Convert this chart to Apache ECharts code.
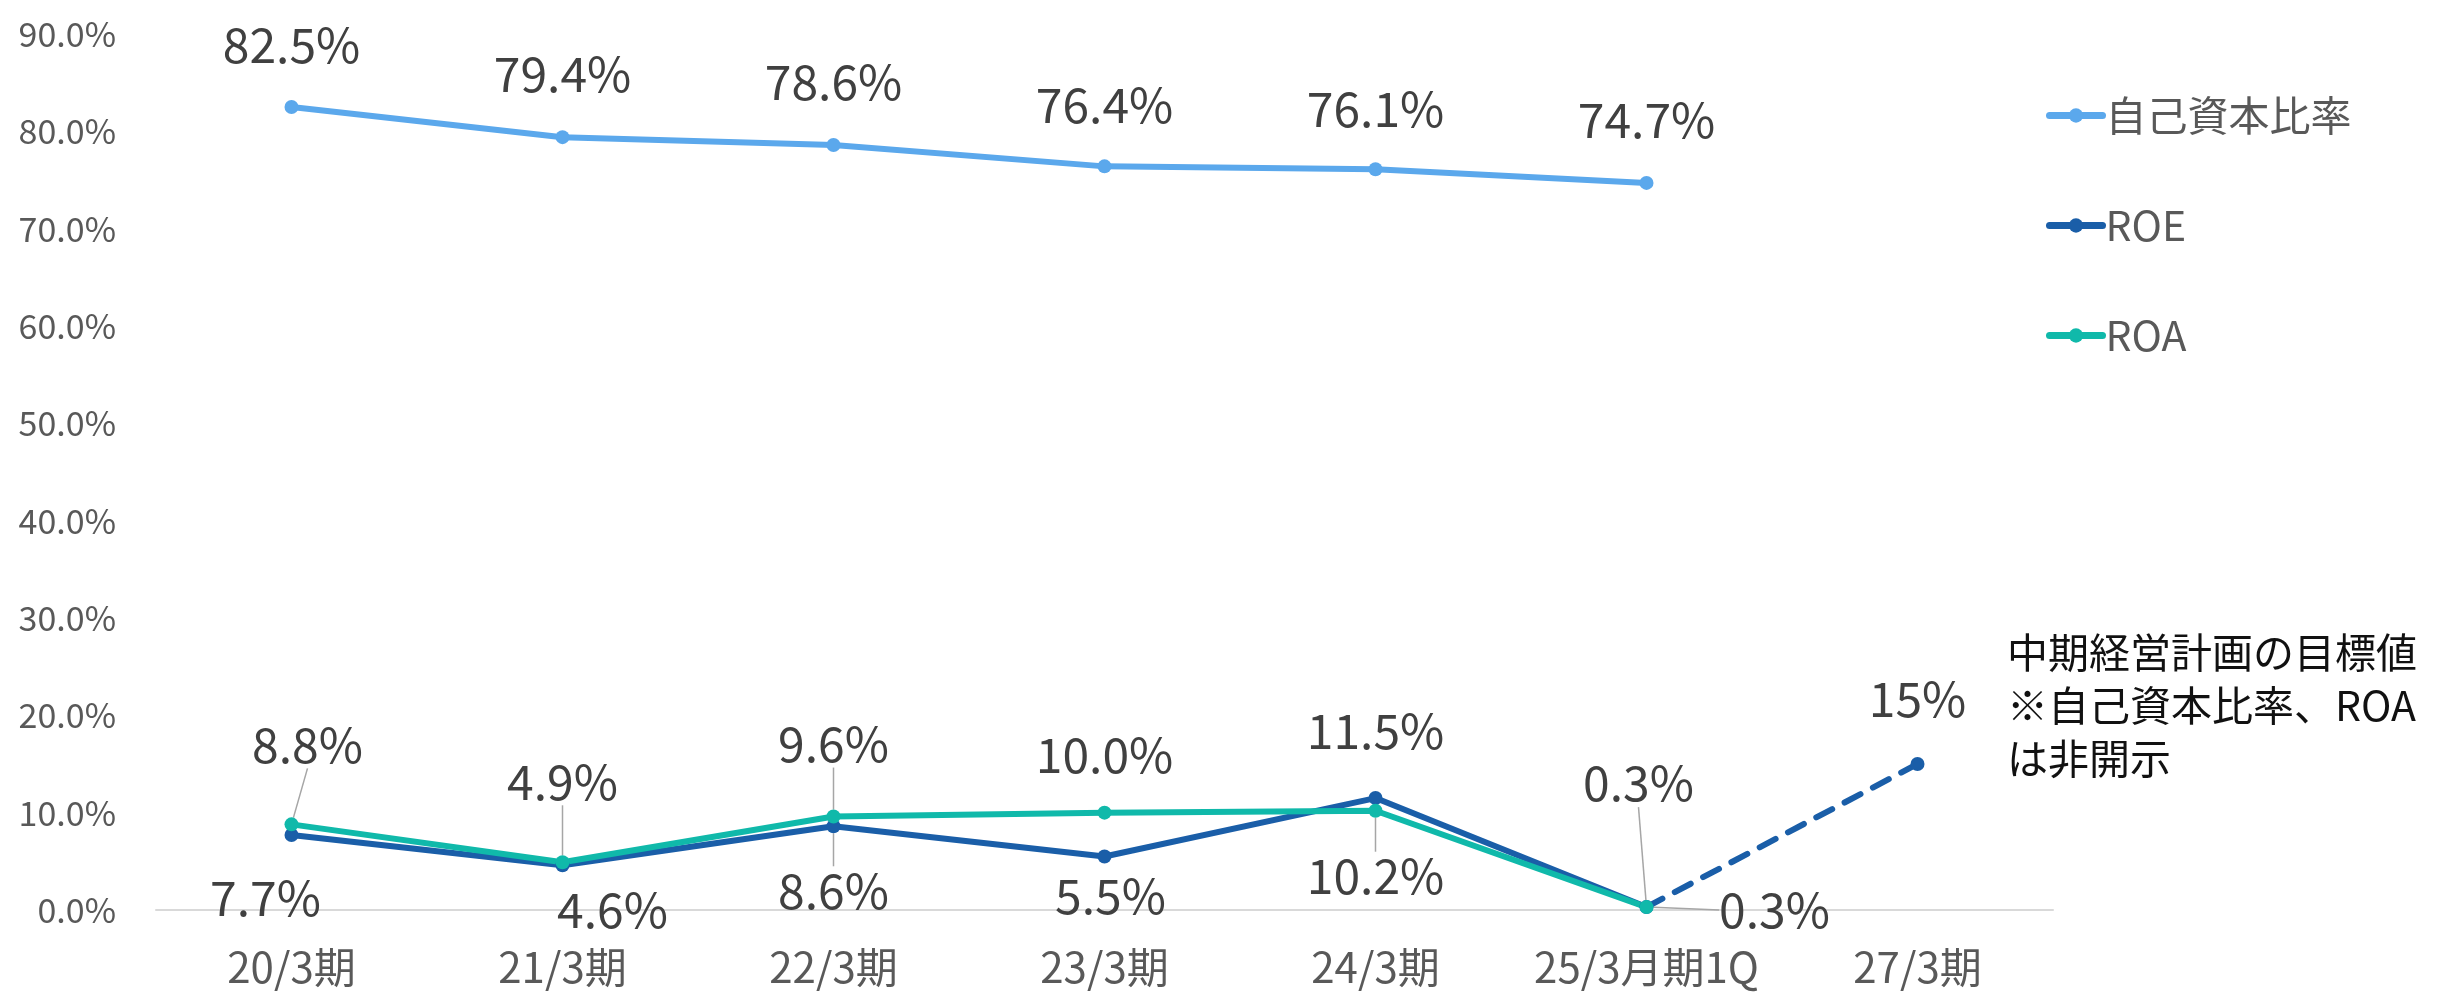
<!DOCTYPE html>
<html>
<head>
<meta charset="utf-8">
<script src="https://cdn.jsdelivr.net/npm/echarts@6/dist/echarts.min.js"></script>
<style>
  html, body { margin: 0; padding: 0; background: #fff; }
  #chart { width: 2440px; height: 1000px; }
</style>
</head>
<body>
<div id="chart"></div>
<script>
// categories and values (percent)
const categories = ['20/3期', '21/3期', '22/3期', '23/3期', '24/3期', '25/3月期1Q', '27/3期']
const equityRatio = [82.5, 79.4, 78.6, 76.4, 76.1, 74.7, null]
const roe = [7.7, 4.6, 8.6, 5.5, 11.5, 0.3, null]
const roa = [8.8, 4.9, 9.6, 10.0, 10.2, 0.3, null]
const roeTarget = [null, null, null, null, null, 0.3, 15]
const yTicks = { min: 0, max: 90, interval: 10 }

// label placement (pixel offsets from the point) and leader lines
const equityOffset = [[0, -62], [0, -63], [0, -63], [0, -62], [0, -61], [0, -63], [0, 0]]
const roeOffset = [[-26, 63], [50, 45], [0, 64], [6, 39], [0, -67], [128, 3], [0, 0]]
const roaOffset = [[16, -80], [0, -81], [0, -73], [0, -58], [0, 65], [-8, -124], [0, 0]]
const roeLeader = [false, false, true, false, false, true, false]
const roaLeader = [true, true, true, false, true, true, false]

const font = '"Noto Sans CJK JP", "Noto Sans", sans-serif'
const colors = {
    equity: '#5ba8ec',
    roe: '#1a5ea8',
    roa: '#10b9aa'
}

const dataLabel = {
    show: true,
    position: 'inside',
    fontSize: 48,
    fontFamily: font,
    color: '#404040',
    formatter: (p) => p.value.toFixed(1) + '%'
}
const leaderStyle = { show: true, lineStyle: { color: '#a6a6a6', width: 1.5 } }

const withLeaders = (values, leaders) => values.map((v, i) => ({
    value: v,
    labelLine: { show: leaders[i] }
}))

const mkLayout = (offsets) => (params) => {
    const o = offsets[params.dataIndex] || [0, 0]
    return { dx: o[0], dy: o[1] }
}

const chart = echarts.init(document.getElementById('chart'))
chart.setOption({
    animation: false,
    textStyle: { fontFamily: font },
    grid: {
        left: 156,
        right: 387,
        top: 34,
        bottom: 90,
        containLabel: false,
        outerBoundsMode: 'none'
    },
    legend: {
        orient: 'vertical',
        left: 2041,
        top: 90,
        itemGap: 69,
        itemWidth: 53,
        itemHeight: 18,
        lineStyle: { width: 7, cap: 'round' },
        textStyle: { fontSize: 41, color: '#595959', fontFamily: font, padding: [0, 0, 0, -2] },
        data: ['自己資本比率', 'ROE', 'ROA']
    },
    xAxis: {
        type: 'category',
        data: categories,
        boundaryGap: true,
        axisLine: { show: true, lineStyle: { color: '#d9d9d9', width: 2 } },
        axisTick: { show: false },
        axisLabel: { interval: 0, fontSize: 42, color: '#595959', margin: 36, fontFamily: font }
    },
    yAxis: {
        type: 'value',
        min: yTicks.min,
        max: yTicks.max,
        interval: yTicks.interval,
        splitLine: { show: false },
        axisLine: { show: false },
        axisTick: { show: false },
        axisLabel: {
            fontSize: 34,
            color: '#595959',
            margin: 40,
            fontFamily: font,
            formatter: (v) => v.toFixed(1) + '%'
        }
    },
    graphic: [{
        type: 'text',
        left: 2007,
        top: 626,
        style: {
            text: '中期経営計画の目標値\n※自己資本比率、ROA\nは非開示',
            font: '41px ' + font,
            lineHeight: 53,
            fill: '#111111'
        }
    }],
    series: [
        {
            name: '自己資本比率',
            type: 'line',
            data: equityRatio,
            symbol: 'circle',
            symbolSize: 14,
            lineStyle: { width: 6, color: colors.equity },
            itemStyle: { color: colors.equity },
            label: dataLabel,
            labelLayout: mkLayout(equityOffset)
        },
        {
            name: 'ROE',
            type: 'line',
            data: withLeaders(roe, roeLeader),
            symbol: 'circle',
            symbolSize: 14,
            lineStyle: { width: 6, color: colors.roe },
            itemStyle: { color: colors.roe },
            label: dataLabel,
            labelLine: leaderStyle,
            labelLayout: mkLayout(roeOffset)
        },
        {
            name: 'ROA',
            type: 'line',
            data: withLeaders(roa, roaLeader),
            symbol: 'circle',
            symbolSize: 14,
            lineStyle: { width: 6, color: colors.roa },
            itemStyle: { color: colors.roa },
            label: dataLabel,
            labelLine: leaderStyle,
            labelLayout: mkLayout(roaOffset)
        },
        {
            name: 'ROE目標',
            type: 'line',
            data: roeTarget.map((v, i) => i === roeTarget.length - 1
                ? { value: v }
                : { value: v, symbol: 'none', label: { show: false } }),
            symbol: 'circle',
            symbolSize: 14,
            lineStyle: { width: 6, color: colors.roe, type: [18, 14], cap: 'round' },
            itemStyle: { color: colors.roe },
            label: {
                show: true,
                position: 'top',
                distance: 34,
                fontSize: 48,
                fontFamily: font,
                color: '#404040',
                formatter: (p) => p.value + '%'
            },
            z: 1
        }
    ]
})
</script>
</body>
</html>
